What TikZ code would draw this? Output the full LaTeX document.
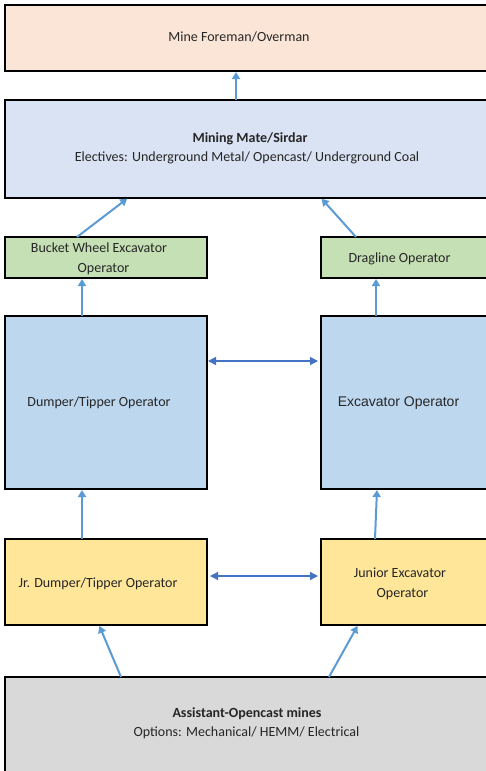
\documentclass[tikz,border=0pt]{standalone}
\usepackage{fontspec}
\setmainfont{Carlito}
\newfontfamily\arialf{Liberation Sans}
\usetikzlibrary{arrows.meta}
\definecolor{cpeach}{HTML}{FBE5D6}
\definecolor{clav}{HTML}{DAE3F3}
\definecolor{cgreen}{HTML}{C5E0B4}
\definecolor{cblue}{HTML}{BDD7EE}
\definecolor{cyellow}{HTML}{FFE699}
\definecolor{cgray}{HTML}{D9D9D9}
\definecolor{carrow}{HTML}{5B9BD5}
\definecolor{cdarrow}{HTML}{4472C4}
\tikzset{
  box/.style={draw=black, line width=2.6pt, rectangle, inner sep=0pt, outer sep=0pt, anchor=north west},
  txt/.style={inner sep=0pt, anchor=base, font=\fontsize{14}{19.5}\selectfont, text=black!85},
  up/.style={draw=carrow, line width=2pt, -{Triangle[length=7pt,width=8pt]}, shorten >=1pt},
  both/.style={draw=cdarrow, line width=1.3pt, {Triangle[length=8pt,width=8pt]}-{Triangle[length=8pt,width=8pt]}}
}
\begin{document}
\begin{tikzpicture}[x=1pt,y=-1pt]
\useasboundingbox (0,0) rectangle (486,771);
\clip (0,0) rectangle (486,771);
\fill[white] (0,0) rectangle (486,771);
% boxes
\node[box, fill=cpeach,  minimum width=485, minimum height=66] (foreman) at (5,5) {};
\node[box, fill=clav,    minimum width=485, minimum height=98] (mate) at (5,100) {};
\node[box, fill=cgreen,  minimum width=202, minimum height=41] (bwe) at (5,237) {};
\node[box, fill=cgreen,  minimum width=169, minimum height=41] (drag) at (321,237) {};
\node[box, fill=cblue,   minimum width=202, minimum height=173] (dump) at (5,316) {};
\node[box, fill=cblue,   minimum width=169, minimum height=173] (exc) at (321,316) {};
\node[box, fill=cyellow, minimum width=202, minimum height=86] (jrd) at (5,539) {};
\node[box, fill=cyellow, minimum width=169, minimum height=86] (jex) at (321,539) {};
\node[box, fill=cgray,   minimum width=485, minimum height=110] (asst) at (5,677) {};
% texts
\node[txt] (tforeman) at (239,41.5) {Mine Foreman/Overman};
\node[txt] (tmate1) at (250,142.5) {\bfseries Mining Mate/Sirdar};
\node[txt] (tmate2) at (247,161) {Electives: Underground Metal/ Opencast/ Underground Coal};
\node[txt] (tbwe1) at (99,252.5) {Bucket Wheel Excavator};
\node[txt] (tbwe2) at (103.5,272.5) {Operator};
\node[txt] (tdrag) at (399.5,262.5) {Dragline Operator};
\node[txt] (tdump) at (99,406.5) {Dumper/Tipper Operator};
\node[txt, font=\arialf\fontsize{14}{19.5}\selectfont] (texc) at (398.5,406.5) {Excavator Operator};
\node[txt] (tjrd) at (98,587.5) {Jr. Dumper/Tipper Operator};
\node[txt] (tjex1) at (400,577.5) {Junior Excavator};
\node[txt] (tjex2) at (402.5,597.5) {Operator};
\node[txt] (tasst1) at (247,717.5) {\bfseries Assistant-Opencast mines};
\node[txt] (tasst2) at (246.5,736.5) {Options: Mechanical/ HEMM/ Electrical};
% arrows
\draw[up] ([xshift=231pt]mate.north west) -- ([xshift=231pt]foreman.south west);
\draw[up] ([xshift=72pt]bwe.north west) -- ([xshift=123pt]mate.south west);
\draw[up] ([xshift=35pt]drag.north west) -- ([xshift=316pt]mate.south west);
\draw[up] ([xshift=77pt]dump.north west) -- ([xshift=77pt]bwe.south west);
\draw[up] ([xshift=55pt]exc.north west) -- ([xshift=55pt]drag.south west);
\draw[up] ([xshift=77pt]jrd.north west) -- ([xshift=77pt]dump.south west);
\draw[up] ([xshift=54pt]jex.north west) -- ([xshift=56pt]exc.south west);
\draw[up] ([xshift=116pt]asst.north west) -- ([xshift=94pt]jrd.south west);
\draw[up] ([xshift=324pt]asst.north west) -- ([xshift=37pt]jex.south west);
\draw[both, shorten <=1pt, shorten >=3pt] ([yshift=41.5pt]dump.east) -- ([yshift=41.5pt]exc.west);
\draw[both, shorten <=3pt, shorten >=3pt] ([yshift=6pt]jrd.east) -- ([yshift=6pt]jex.west);
\end{tikzpicture}
\end{document}
